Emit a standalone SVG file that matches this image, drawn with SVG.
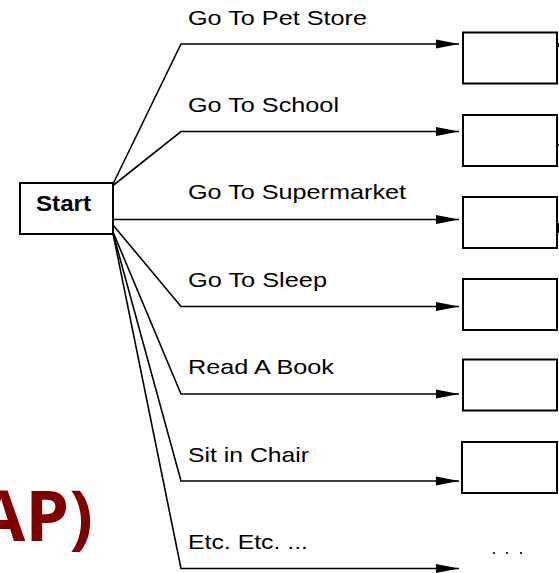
<svg xmlns="http://www.w3.org/2000/svg" width="559" height="573" viewBox="0 0 559 573">
  <style>
    .box { fill: #ffffff; stroke: #000000; stroke-width: 2; }
    .wire { fill: none; stroke: #000000; stroke-width: 1.6; }
    .lbl { font-family: "Liberation Sans", Arial, sans-serif; font-size: 21px; fill: #000000; }
    .start { font-family: "Liberation Sans", Arial, sans-serif; font-size: 22px; font-weight: bold; fill: #000000; }
    .title { font-family: "Open Sans", "Noto Sans", sans-serif; font-size: 70px; font-weight: bold; fill: #7f0000; }
  </style>
  <defs>
    <marker id="head" markerUnits="userSpaceOnUse" markerWidth="24" markerHeight="10" refX="23" refY="5" orient="auto">
      <path d="M0,0.5 L23,5 L0,9.5 Z" fill="#000000"/>
    </marker>
  </defs>
  <rect width="559" height="573" fill="#ffffff"/>

  <!-- partial heading, cut at the left edge -->
  <text class="title" x="93" y="541" text-anchor="end">AP)</text>

  <g id="connectors">
    <path class="wire" d="M113,184 L181,44 L459,44" marker-end="url(#head)"/>
    <path class="wire" d="M113,185.5 L181,131.5 L459,131.5" marker-end="url(#head)"/>
    <path class="wire" d="M113,219.5 L459,219.5" marker-end="url(#head)"/>
    <path class="wire" d="M113,225 L181,306.5 L459,306.5" marker-end="url(#head)"/>
    <path class="wire" d="M113,232 L181,394 L459,394" marker-end="url(#head)"/>
    <path class="wire" d="M113,233 L181,481 L459,481" marker-end="url(#head)"/>
    <path class="wire" d="M113,233.5 L181,568.5 L459,568.5" marker-end="url(#head)"/>
  </g>

  <g id="labels">
    <text class="lbl" x="188" y="25" textLength="179" lengthAdjust="spacingAndGlyphs">Go To Pet Store</text>
    <text class="lbl" x="188" y="112" textLength="151" lengthAdjust="spacingAndGlyphs">Go To School</text>
    <text class="lbl" x="188" y="198.5" textLength="218" lengthAdjust="spacingAndGlyphs">Go To Supermarket</text>
    <text class="lbl" x="188" y="287" textLength="139" lengthAdjust="spacingAndGlyphs">Go To Sleep</text>
    <text class="lbl" x="188" y="374" textLength="146" lengthAdjust="spacingAndGlyphs">Read A Book</text>
    <text class="lbl" x="188" y="461.5" textLength="121" lengthAdjust="spacingAndGlyphs">Sit in Chair</text>
    <text class="lbl" x="188" y="548.5" textLength="120" lengthAdjust="spacingAndGlyphs">Etc. Etc. ...</text>
  </g>

  <g id="start">
    <rect class="box" x="20" y="183" width="93" height="51"/>
    <text class="start" x="63.5" y="211" text-anchor="middle" textLength="55" lengthAdjust="spacingAndGlyphs">Start</text>
  </g>

  <g id="pet-store"><rect class="box" x="463" y="32.5" width="94" height="51"/></g>
  <g id="school"><rect class="box" x="463" y="115" width="94" height="51"/></g>
  <g id="supermarket"><rect class="box" x="463" y="197" width="94" height="51"/></g>
  <g id="sleep"><rect class="box" x="463" y="279" width="94" height="51"/></g>
  <g id="book"><rect class="box" x="463" y="359.5" width="94" height="51"/></g>
  <g id="chair"><rect class="box" x="462" y="442" width="95" height="51"/></g>

  <!-- stubs continuing past the right edge -->
  <g id="stubs" fill="#000000">
    <rect x="557" y="43" width="2" height="4"/>
    <rect x="557" y="144" width="2" height="1.5"/>
    <rect x="557" y="223" width="2" height="10"/>
  </g>

  <g id="more" fill="#000000">
    <circle cx="494" cy="553" r="1.1"/>
    <circle cx="507" cy="553" r="1.1"/>
    <circle cx="521" cy="553" r="1.1"/>
  </g>
</svg>
